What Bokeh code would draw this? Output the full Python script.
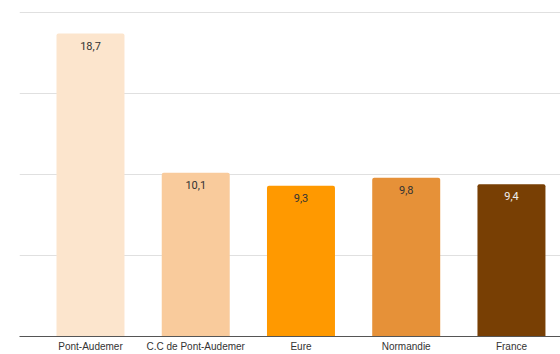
from bokeh.plotting import figure
from bokeh.models import ColumnDataSource, Range1d, FixedTicker
from bokeh.core.properties import value
from bokeh.embed import file_html
from bokeh.resources import INLINE

categories = ["Pont-Audemer", "C.C de Pont-Audemer", "Eure", "Normandie", "France"]
values = [18.7, 10.1, 9.3, 9.8, 9.4]
value_labels = ["18,7", "10,1", "9,3", "9,8", "9,4"]
y_ticks = [0, 5, 10, 15, 20]

bar_colors = ["#fce5cd", "#f9cb9c", "#ff9900", "#e69138", "#783f04"]
label_colors = ["#333333", "#333333", "#333333", "#333333", "#eeeeee"]

idx = list(range(len(categories)))
src = ColumnDataSource(dict(x=idx, top=values, label=value_labels,
                            color=bar_colors, lc=label_colors))

p = figure(width=560, height=354, output_backend="svg", toolbar_location=None,
           x_range=Range1d(-0.6746, 4.466), y_range=Range1d(0, 20.74),
           min_border_left=19, min_border_right=0, min_border_top=0,
           min_border_bottom=17)
p.outline_line_color = None
p.background_fill_color = "white"
p.border_fill_color = "white"

p.vbar(x="x", top="top", width=0.646, fill_color="color", line_color=None,
       border_radius=(2, 2, 0, 0), source=src)
p.text(x="x", y="top", text="label", text_color="lc", text_align="center",
       text_baseline="top", y_offset=8, text_font=value("Roboto"),
       text_font_size="11px", source=src)

p.yaxis.visible = False
p.xgrid.visible = False
p.ygrid.ticker = FixedTicker(ticks=y_ticks)
p.ygrid.grid_line_color = "#e0e0e0"
p.ygrid.grid_line_width = 1

p.xaxis.ticker = FixedTicker(ticks=idx)
p.xaxis.major_label_overrides = {i: c for i, c in enumerate(categories)}
p.xaxis.major_tick_line_color = None
p.xaxis.minor_tick_line_color = None
p.xaxis.major_tick_out = 0
p.xaxis.major_tick_in = 0
p.xaxis.major_label_standoff = 4
p.xaxis.axis_line_color = "#555555"
p.xaxis.axis_line_width = 1
p.xaxis.major_label_text_font = "Liberation Sans"
p.xaxis.major_label_text_font_size = "10px"
p.xaxis.major_label_text_line_height = 1.0
p.xaxis.major_label_text_color = "#333333"

open("out.html", "w").write(file_html(p, INLINE))
